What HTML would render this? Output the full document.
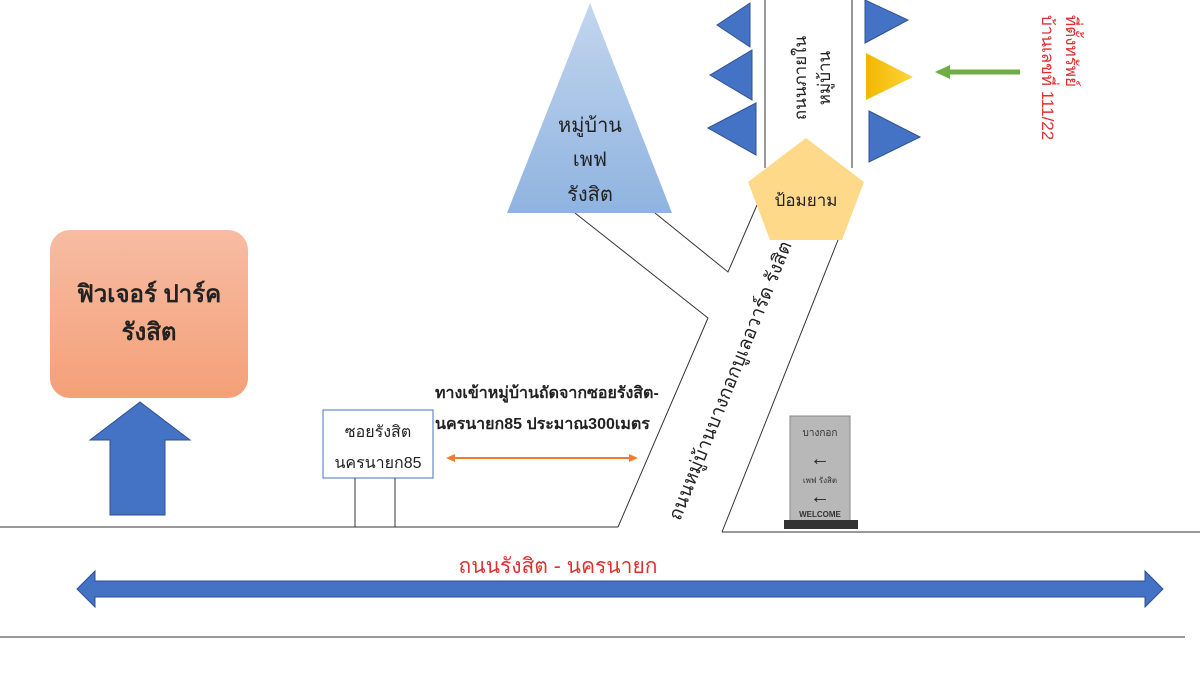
<!DOCTYPE html>
<html><head><meta charset="utf-8"><style>
body{margin:0;background:#fff;}
svg{display:block;font-family:"Liberation Sans","DejaVu Sans",sans-serif;}
</style></head><body>
<svg width="1200" height="675" viewBox="0 0 1200 675" xmlns="http://www.w3.org/2000/svg">
<defs>
<linearGradient id="tri" x1="0" y1="0" x2="0" y2="1"><stop offset="0" stop-color="#c3d6ee"/><stop offset="1" stop-color="#8fb3e0"/></linearGradient>
<linearGradient id="org" x1="0" y1="0" x2="0" y2="1"><stop offset="0" stop-color="#f7bca3"/><stop offset="1" stop-color="#f4a078"/></linearGradient>
<linearGradient id="yel" x1="0" y1="0" x2="1" y2="0"><stop offset="0" stop-color="#f0b800"/><stop offset="1" stop-color="#ffd33a"/></linearGradient>
</defs>
<g stroke="#333" stroke-width="1" fill="none">
<line x1="0" y1="527" x2="618" y2="527"/>
<line x1="722" y1="532" x2="1200" y2="532"/>
<line x1="0" y1="637" x2="1185" y2="637"/>
<polyline points="618,527 708,318 575,213"/>
<polyline points="655,213 728,272 757,205"/>
<line x1="722" y1="532" x2="838" y2="240"/>
<line x1="765" y1="0" x2="765" y2="168"/>
<line x1="852" y1="0" x2="852" y2="168"/>
</g>
<polygon points="590,3 507,213 672,213" fill="url(#tri)"/>
<text x="590" y="132" font-size="20" text-anchor="middle" fill="#222">หมู่บ้าน</text>
<text x="590" y="166" font-size="20" text-anchor="middle" fill="#222">เพฟ</text>
<text x="590" y="201" font-size="20" text-anchor="middle" fill="#222">รังสิต</text>
<g fill="#4472c4" stroke="#2f528f" stroke-width="1">
<polygon points="717,25 750,3 750,47"/>
<polygon points="710,75 752,50 752,100"/>
<polygon points="708,128 756,103 756,155"/>
<polygon points="865,0 908,20 865,43"/>
<polygon points="869,111 920,137 869,162"/>
</g>
<polygon points="866,53 913,77 866,100" fill="url(#yel)"/>
<polygon points="806,138 864,182 842,240 770,240 748,182" fill="#ffd98a"/>
<text x="806" y="206" font-size="17" text-anchor="middle" fill="#222">ป้อมยาม</text>
<text transform="translate(806,78) rotate(-90)" font-size="17" text-anchor="middle" fill="#222">ถนนภายใน</text>
<text transform="translate(830,78) rotate(-90)" font-size="17" text-anchor="middle" fill="#222">หมู่บ้าน</text>
<line x1="1020" y1="72" x2="948" y2="72" stroke="#70ad47" stroke-width="5"/>
<polygon points="935,72 950,65 950,79" fill="#70ad47"/>
<text transform="translate(1066,15) rotate(90)" font-size="17" fill="#e03030">ที่ตั้งทรัพย์</text>
<text transform="translate(1042,15) rotate(90)" font-size="17" fill="#e03030">บ้านเลขที่ 111/22</text>
<text transform="translate(736,383) rotate(-68)" font-size="19" text-anchor="middle" fill="#222">ถนนหมู่บ้านบางกอกบูเลอวาร์ด รังสิต</text>
<rect x="50" y="230" width="198" height="168" rx="20" fill="url(#org)"/>
<text x="149" y="302" font-size="24" font-weight="bold" text-anchor="middle" fill="#222">ฟิวเจอร์ ปาร์ค</text>
<text x="149" y="340" font-size="24" font-weight="bold" text-anchor="middle" fill="#222">รังสิต</text>
<polygon points="110,515 110,440 90,440 140,402 190,440 165,440 165,515" fill="#4472c4" stroke="#2f528f"/>
<rect x="323" y="410" width="110" height="68" fill="#fff" stroke="#4472c4"/>
<text x="378" y="437" font-size="16" text-anchor="middle" fill="#222">ซอยรังสิต</text>
<text x="378" y="468" font-size="16" text-anchor="middle" fill="#222">นครนายก85</text>
<line x1="355" y1="478" x2="355" y2="527" stroke="#333"/>
<line x1="395" y1="478" x2="395" y2="527" stroke="#333"/>
<text x="435" y="398" font-size="16" font-weight="bold" fill="#222">ทางเข้าหมู่บ้านถัดจากซอยรังสิต-</text>
<text x="435" y="429" font-size="16" font-weight="bold" fill="#222">นครนายก85 ประมาณ300เมตร</text>
<line x1="453" y1="458" x2="631" y2="458" stroke="#ed7d31" stroke-width="2"/>
<polygon points="446,458 455,454 455,462" fill="#ed7d31"/>
<polygon points="638,458 629,454 629,462" fill="#ed7d31"/>
<polygon points="77,589 95,571 95,581 1145,581 1145,571 1163,589 1145,607 1145,597 95,597 95,607" fill="#4472c4" stroke="#2f528f"/>
<text x="558" y="573" font-size="21" text-anchor="middle" fill="#e03030">ถนนรังสิต - นครนายก</text>
<rect x="790" y="416" width="60" height="108" fill="#b8b8b8" stroke="#888"/>
<rect x="784" y="520" width="74" height="9" fill="#333"/>
<text x="820" y="436" font-size="10" text-anchor="middle" fill="#333">บางกอก</text>
<text x="820" y="465" font-size="20" text-anchor="middle" fill="#222">←</text>
<text x="820" y="483" font-size="8" text-anchor="middle" fill="#333">เพฟ รังสิต</text>
<text x="820" y="503" font-size="20" text-anchor="middle" fill="#222">←</text>
<text x="820" y="517" font-size="8" font-weight="bold" text-anchor="middle" fill="#333">WELCOME</text>
</svg>
</body></html>
